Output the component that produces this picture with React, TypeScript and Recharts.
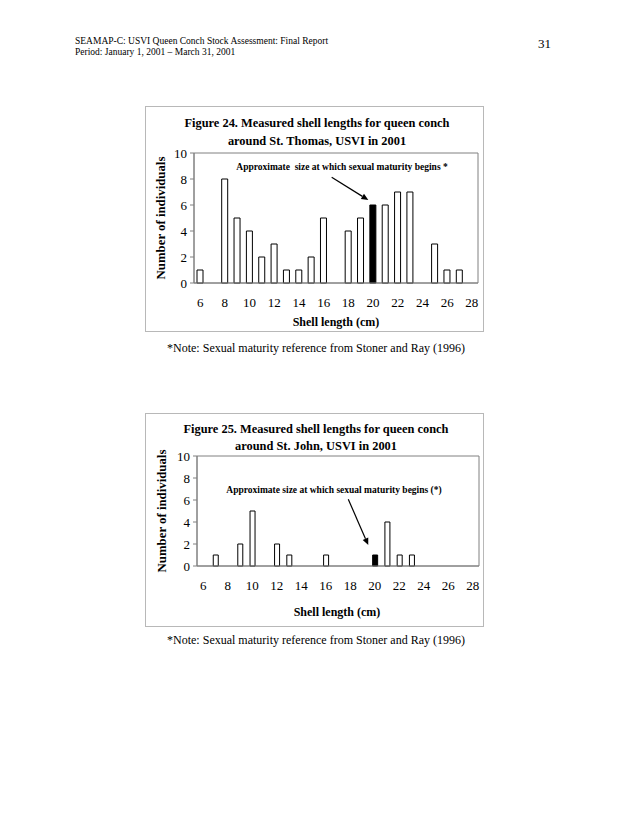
import React from "react"
import { BarChart, Bar, Cell, XAxis, YAxis, ReferenceArea, ReferenceLine } from "recharts"

const SERIF = '"Liberation Serif", "Times New Roman", serif'

// shell length classes (cm) and counts per island
const lengths = [6, 7, 8, 9, 10, 11, 12, 13, 14, 15, 16, 17, 18, 19, 20, 21, 22, 23, 24, 25, 26, 27, 28]
const stThomasCounts = [1, 0, 8, 5, 4, 2, 3, 1, 1, 2, 5, 0, 4, 5, 6, 6, 7, 7, 0, 3, 1, 1, 0]
const stJohnCounts = [0, 1, 0, 2, 5, 0, 2, 1, 0, 0, 1, 0, 0, 0, 1, 4, 1, 1, 0, 0, 0, 0, 0]
const maturityLength = 20
const lengthTicks = [6, 8, 10, 12, 14, 16, 18, 20, 22, 24, 26, 28]
const countTicks = [0, 2, 4, 6, 8, 10]

// arrow ends in data units (length, count)
const stThomasArrow = { x1: 16.65, y1: 8.13, x2: 19.62, y2: 6.38 }
const stJohnArrow = { x1: 17.84, y1: 6.06, x2: 19.47, y2: 1.9 }

const xDomain: [number, number] = [lengths[0] - 0.5, lengths[lengths.length - 1] + 0.5]
const edgeTicks = [...lengths.map((l) => l - 0.5), lengths[lengths.length - 1] + 0.5]

function Txt({ cx, cy, size, bold, left, children }: any) {
  const lh = size * 1.25
  return (
    <div
      style={{
        position: "absolute",
        left: left ? cx : cx - 300,
        width: left ? undefined : 600,
        top: cy - lh / 2,
        lineHeight: `${lh}px`,
        fontSize: size,
        fontWeight: bold ? "bold" : "normal",
        textAlign: left ? "left" : "center",
        whiteSpace: "nowrap",
        fontFamily: SERIF,
        color: "#000",
      }}
    >
      {children}
    </div>
  )
}

function Arrow(props: any) {
  const { x1, y1, x2, y2 } = props
  const ang = Math.atan2(y2 - y1, x2 - x1)
  const len = 7
  const w = 3
  const bx = x2 - len * Math.cos(ang)
  const by = y2 - len * Math.sin(ang)
  const px = -Math.sin(ang) * w
  const py = Math.cos(ang) * w
  return (
    <g>
      <line x1={x1} y1={y1} x2={bx} y2={by} stroke="#000" strokeWidth={1.2} />
      <polygon points={`${x2},${y2} ${bx + px},${by + py} ${bx - px},${by - py}`} fill="#000" />
    </g>
  )
}

function ConchChart({ counts, left, top, width, height, margin, barSize, arrow }: any) {
  const data = lengths.map((l, i) => ({ length: l, count: counts[i] }))
  return (
    <div style={{ position: "absolute", left, top, width, height }}>
      <div
        style={{
          position: "absolute",
          inset: 0,
          border: "1px solid #b8b8b8",
          boxSizing: "border-box",
        }}
      />
      <BarChart width={width} height={height} data={data} margin={margin} style={{ fontFamily: SERIF }}>
        <XAxis
          xAxisId="edge"
          type="number"
          dataKey="length"
          domain={xDomain}
          ticks={edgeTicks}
          tick={false}
          tickSize={4}
          tickLine={{ stroke: "#808080" }}
          axisLine={false}
          height={0}
          allowDataOverflow
        />
        <XAxis
          xAxisId="lab"
          type="number"
          dataKey="length"
          domain={xDomain}
          ticks={lengthTicks}
          interval={0}
          tickLine={false}
          axisLine={{ stroke: "#808080" }}
          tick={{ fontSize: 13, fill: "#000", fontFamily: SERIF }}
          tickMargin={9}
          height={20}
          allowDataOverflow
        />
        <YAxis
          domain={[0, 10]}
          ticks={countTicks}
          interval={0}
          tickSize={4}
          tickMargin={3}
          tickLine={{ stroke: "#808080" }}
          axisLine={{ stroke: "#808080" }}
          tick={{ fontSize: 13, fill: "#000", fontFamily: SERIF }}
          width={30}
        />
        <ReferenceArea xAxisId="lab" x1={xDomain[0]} x2={xDomain[1]} y1={0} y2={10} fill="none" stroke="#808080" ifOverflow="visible" />
        <Bar xAxisId="lab" dataKey="count" barSize={barSize} stroke="#000" strokeWidth={1} isAnimationActive={false}>
          {data.map((d) => (
            <Cell key={d.length} fill={d.length === maturityLength ? "#000" : "#fff"} />
          ))}
        </Bar>
        <ReferenceLine
          xAxisId="lab"
          segment={[
            { x: arrow.x1, y: arrow.y1 },
            { x: arrow.x2, y: arrow.y2 },
          ]}
          shape={Arrow}
          ifOverflow="visible"
        />
      </BarChart>
    </div>
  )
}

export default function App() {
  return (
    <div style={{ position: "absolute", left: 0, top: 0, width: 630, height: 815, background: "#fff", overflow: "hidden" }}>
      <Txt cx={75} cy={42} size={9.5} left>
        SEAMAP-C: USVI Queen Conch Stock Assessment: Final Report
      </Txt>
      <Txt cx={75} cy={53} size={9.5} left>
        Period: January 1, 2001 – March 31, 2001
      </Txt>
      <Txt cx={538} cy={44} size={13} left>
        31
      </Txt>

      <ConchChart
        counts={stThomasCounts}
        left={145}
        top={106}
        width={339}
        height={226}
        margin={{ top: 47, right: 6, bottom: 29, left: 19 }}
        barSize={6}
        arrow={stThomasArrow}
      />
      <Txt cx={317} cy={124} size={12.4} bold>
        Figure 24. Measured shell lengths for queen conch
      </Txt>
      <Txt cx={317} cy={142} size={12.4} bold>
        around St. Thomas, USVI in 2001
      </Txt>
      <Txt cx={342} cy={168} size={9.5} bold>
        Approximate&nbsp; size at which sexual maturity begins *
      </Txt>
      <Txt cx={336} cy={322} size={12} bold>
        Shell length (cm)
      </Txt>
      <div style={{ position: "absolute", left: 161, top: 218, width: 0, height: 0 }}>
        <div style={{ transform: "translate(-50%, -50%) rotate(-90deg)", width: 200, position: "absolute" }}>
          <Txt cx={100} cy={0} size={12.8} bold>
            Number of individuals
          </Txt>
        </div>
      </div>
      <Txt cx={316} cy={348} size={12}>
        *Note: Sexual maturity reference from Stoner and Ray (1996)
      </Txt>

      <ConchChart
        counts={stJohnCounts}
        left={145}
        top={413}
        width={339}
        height={214}
        margin={{ top: 43, right: 5, bottom: 41, left: 22 }}
        barSize={5}
        arrow={stJohnArrow}
      />
      <Txt cx={316} cy={430} size={12.4} bold>
        Figure 25. Measured shell lengths for queen conch
      </Txt>
      <Txt cx={316} cy={447} size={12.4} bold>
        around St. John, USVI in 2001
      </Txt>
      <Txt cx={334} cy={491} size={9.5} bold>
        Approximate size at which sexual maturity begins (*)
      </Txt>
      <Txt cx={337} cy={612} size={12} bold>
        Shell length (cm)
      </Txt>
      <div style={{ position: "absolute", left: 162, top: 511, width: 0, height: 0 }}>
        <div style={{ transform: "translate(-50%, -50%) rotate(-90deg)", width: 200, position: "absolute" }}>
          <Txt cx={100} cy={0} size={12.8} bold>
            Number of individuals
          </Txt>
        </div>
      </div>
      <Txt cx={316} cy={640} size={12}>
        *Note: Sexual maturity reference from Stoner and Ray (1996)
      </Txt>
    </div>
  )
}
